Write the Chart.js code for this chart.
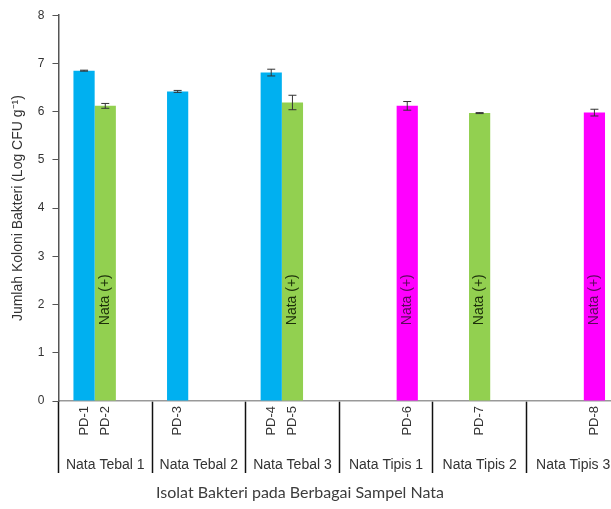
<!DOCTYPE html>
<html>
<head>
<meta charset="utf-8">
<script src="https://cdn.jsdelivr.net/npm/chart.js@4.4.0/dist/chart.umd.min.js"></script>
<style>
  html, body { margin: 0; padding: 0; background: #fff; overflow: hidden; }
  #wrap { width: 620px; height: 509px; }
</style>
</head>
<body>
<div id="wrap"><canvas id="chart" width="620" height="509"></canvas></div>
<script>
// sample groups on the x axis
var groupLabels = ['Nata Tebal 1', 'Nata Tebal 2', 'Nata Tebal 3', 'Nata Tipis 1', 'Nata Tipis 2', 'Nata Tipis 3'];

// blue isolates
var blueNames = ['PD-1', 'PD-3', 'PD-4', null, null, null];
var blueValues = [6.85, 6.42, 6.81, null, null, null];
var blueErrors = [0.01, 0.02, 0.07, null, null, null];

// green isolates (nata +)
var greenNames = ['PD-2', null, 'PD-5', null, 'PD-7', null];
var greenValues = [6.12, null, 6.19, null, 5.97, null];
var greenErrors = [0.05, null, 0.15, null, 0.01, null];

// magenta isolates (nata +)
var pinkNames = [null, null, null, 'PD-6', null, 'PD-8'];
var pinkValues = [null, null, null, 6.12, null, 5.98];
var pinkErrors = [null, null, null, 0.09, null, 0.07];

var noteText = 'Nata (+)';

var yTitle = 'Jumlah Koloni Bakteri (Log CFU g\u207B\u00B9)';
var xTitle = 'Isolat Bakteri pada Berbagai Sampel Nata';

var arial = 'Liberation Sans, Arial, sans-serif';

//draws error bars, isolate names, group names and the nata notes
var extrasPlugin = {
  id: 'extras',
  afterDatasetsDraw: function (chart) {
    var ctx = chart.ctx;
    var yScale = chart.scales.y;
    var xScale = chart.scales.x;
    chart.data.datasets.forEach(function (ds, i) {
      var meta = chart.getDatasetMeta(i);
      meta.data.forEach(function (bar, j) {
        var v = ds.data[j];
        if (v === null) return;
        var e = ds.errors[j];
        var top = yScale.getPixelForValue(v + e);
        var bot = yScale.getPixelForValue(v - e);
        ctx.save();
        ctx.strokeStyle = '#333';
        ctx.lineWidth = 1;
        ctx.beginPath();
        ctx.moveTo(bar.x, top);
        ctx.lineTo(bar.x, bot);
        ctx.moveTo(bar.x - 4, top);
        ctx.lineTo(bar.x + 4, top);
        ctx.moveTo(bar.x - 4, bot);
        ctx.lineTo(bar.x + 4, bot);
        ctx.stroke();

        // isolate name under the bar
        ctx.translate(bar.x, xScale.top + 5);
        ctx.rotate(-Math.PI / 2);
        ctx.fillStyle = '#333';
        ctx.font = '13px ' + arial;
        ctx.textAlign = 'right';
        ctx.textBaseline = 'middle';
        ctx.fillText(ds.names[j], 0, 0);
        ctx.restore();

        if (ds.note) {
          ctx.save();
          ctx.translate(bar.x, yScale.getPixelForValue(2.1));
          ctx.rotate(-Math.PI / 2);
          ctx.fillStyle = ds.noteColor;
          ctx.font = '14px ' + arial;
          ctx.textAlign = 'center';
          ctx.textBaseline = 'middle';
          ctx.fillText(ds.note, 0, 0);
          ctx.restore();
        }
      });
    });

    // group names between the separators
    ctx.save();
    ctx.fillStyle = '#333';
    ctx.font = '14px ' + arial;
    ctx.textAlign = 'center';
    ctx.textBaseline = 'middle';
    groupLabels.forEach(function (g, k) {
      ctx.fillText(g, xScale.getPixelForValue(k), xScale.top + 64);
    });

    // axis title, centred on the picture
    ctx.fillStyle = '#3c3c3c';
    ctx.font = '16px Lato, sans-serif';
    ctx.fillText(xTitle, 300, 493);
    ctx.restore();
  }
};

var ctx = document.getElementById('chart').getContext('2d');
var chart = new Chart(ctx, {
  type: 'bar',
  data: {
    labels: groupLabels,
    datasets: [
      {
        data: blueValues, names: blueNames, errors: blueErrors, note: null,
        backgroundColor: '#00B0F0', barPercentage: 1, categoryPercentage: 0.68
      },
      {
        data: greenValues, names: greenNames, errors: greenErrors, note: noteText, noteColor: '#1c2e0a',
        backgroundColor: '#92D050', barPercentage: 1, categoryPercentage: 0.68
      },
      {
        data: pinkValues, names: pinkNames, errors: pinkErrors, note: noteText, noteColor: '#5a0a5a',
        backgroundColor: '#FF00FF', barPercentage: 1, categoryPercentage: 0.68
      }
    ]
  },
  options: {
    responsive: false,
    animation: false,
    devicePixelRatio: 1,
    layout: { padding: { left: 6, top: 13, right: 0, bottom: 36 } },
    plugins: {
      legend: { display: false },
      tooltip: { enabled: false }
    },
    scales: {
      x: {
        offset: true,
        grid: {
          offset: true,
          drawOnChartArea: false,
          drawTicks: true,
          tickLength: 72,
          tickColor: '#111',
          tickWidth: 1.5
        },
        border: { color: '#999', width: 1.5 },
        ticks: { display: false }
      },
      y: {
        min: 0,
        max: 8,
        ticks: {
          stepSize: 1,
          padding: 8,
          color: '#333',
          font: { family: arial, size: 12 }
        },
        grid: {
          drawOnChartArea: false,
          drawTicks: true,
          tickLength: 6,
          tickColor: '#555'
        },
        border: { color: '#555', width: 1.5 },
        title: {
          display: true,
          text: yTitle,
          color: '#333',
          font: { family: arial, size: 14 },
          padding: { top: 4, bottom: 3 }
        }
      }
    }
  },
  plugins: [extrasPlugin]
});
</script>
</body>
</html>
